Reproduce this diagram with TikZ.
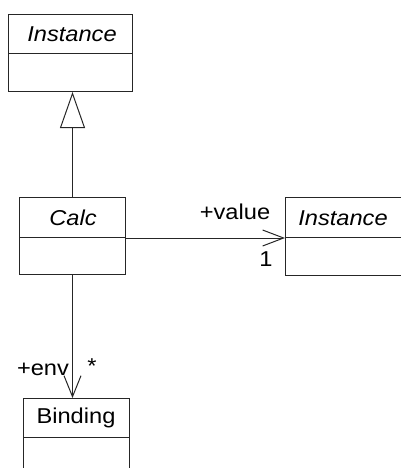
\documentclass[tikz,border=0pt]{standalone}
\usepackage{fontspec}
\setmainfont{Liberation Sans}
\usetikzlibrary{arrows.meta}
\newcommand{\umltxt}[1]{\scalebox{1.1}[1]{\fontsize{21.5}{25}\selectfont #1}}
\begin{document}
\begin{tikzpicture}[x=1pt,y=-1pt,
  part/.style={draw=black!85, line width=1pt, inner sep=0pt, anchor=north west},
  lbl/.style={inner sep=0pt},
  conn/.style={draw=black!85, line width=1pt}]
\useasboundingbox (0,0) rectangle (400,468);
% top Instance
\node[part, minimum width=124pt, minimum height=39pt] (i1h) at (8,14) {};
\node[part, minimum width=124pt, minimum height=38pt] (i1b) at (8,53) {};
\node[lbl] (i1t) at (72,34) {\umltxt{\itshape Instance}};
% Calc
\node[part, minimum width=106pt, minimum height=40pt] (ch) at (19,197) {};
\node[part, minimum width=106pt, minimum height=37pt] (cb) at (19,237) {};
\node[lbl] (ct) at (73,218) {\umltxt{\itshape Calc}};
% right Instance
\node[part, minimum width=125pt, minimum height=40pt] (i2h) at (285,197) {};
\node[part, minimum width=125pt, minimum height=38pt] (i2b) at (285,237) {};
\node[lbl] (i2t) at (343,218) {\umltxt{\itshape Instance}};
% Binding
\node[part, minimum width=106pt, minimum height=39pt] (bh) at (23,398) {};
\node[part, minimum width=106pt, minimum height=40pt] (bb) at (23,437) {};
\node[lbl] (bt) at (76,418) {\umltxt{Binding}};
% generalization
\draw[conn, -{Triangle[open, length=36pt, width=25pt]}] (ch.north) -- (ch.north |- i1b.south);
% association to Instance
\draw[conn, -{Straight Barb[length=21pt, width=16pt]}] (ch.south east) -- (i2h.south west);
\node[lbl] (val) at (235,212) {\umltxt{+value}};
\node[lbl] (one) at (266,259) {\umltxt{1}};
% association to Binding
\draw[conn, -{Straight Barb[length=21pt, width=17pt]}] (cb.south) -- (cb.south |- bh.north);
\node[lbl] (env) at (43,369) {\umltxt{+env}};
\node[lbl] (star) at (92,366) {\umltxt{*}};
\end{tikzpicture}
\end{document}
